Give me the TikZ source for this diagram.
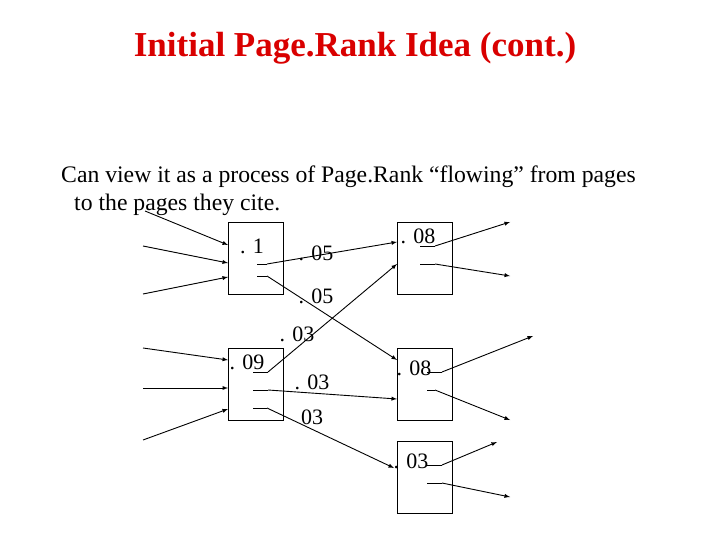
\documentclass[tikz,border=0pt]{standalone}
\usepackage{fontspec}
\setmainfont{Liberation Serif}
\begin{document}
\begin{tikzpicture}[x=1pt,y=-1pt,
  page/.style={draw,minimum width=55pt,minimum height=72pt,anchor=north west,inner sep=0},
  lab/.style={font=\fontsize{22}{22}\selectfont,inner sep=0},
  arr/.style={-latex,line width=0.9pt},
  ln/.style={line width=0.9pt}]
\useasboundingbox (0,0) rectangle (720,540);
\node[text=red!85!black,font=\bfseries\fontsize{35}{35}\selectfont] (title) at (355,48) {Initial Page.Rank Idea (cont.)};
\node[anchor=west,font=\fontsize{23.7}{24}\selectfont,inner sep=0] (t1) at (61,177) {Can view it as a process of Page.Rank “flowing” from pages};
\node[anchor=west,font=\fontsize{23.7}{24}\selectfont,inner sep=0] (t2) at (74,205) {to the pages they cite.};
\node[page] (A) at (228,222) {};
\node[page] (B) at (397,222) {};
\node[page] (C) at (228,348) {};
\node[page] (D) at (397,348) {};
\node[page] (E) at (397,441) {};
% incoming
\coordinate (a1) at (145,211); \coordinate (a2) at (143,246); \coordinate (a3) at (143,294);
\draw[arr] (a1) -- (228,245); \draw[arr] (a2) -- (228,263); \draw[arr] (a3) -- (228,277);
\coordinate (c1) at (143,348); \coordinate (c2) at (143,388); \coordinate (c3) at (143,440);
\draw[arr] (c1) -- (228,360); \draw[arr] (c2) -- (228,388); \draw[arr] (c3) -- (228,409);
% A outs
\draw[ln] (257,264) -- (267,264); \draw[arr] (267,264) -- (397,242);
\draw[ln] (257,276) -- (267,276); \draw[arr] (267,276) -- (397,360);
% C outs
\draw[ln] (253,372) -- (268,372); \draw[arr] (268,372) -- (397,264);
\draw[ln] (253,390) -- (268,390); \draw[arr] (268,390) -- (397,399);
\draw[ln] (253,408) -- (267,408); \draw[arr] (267,408) -- (394,468);
% B outs
\coordinate (b1) at (510,222); \coordinate (b2) at (510,276);
\draw[ln] (420,246) -- (435,246); \draw[arr] (435,246) -- (b1);
\draw[ln] (420,264) -- (435,264); \draw[arr] (435,264) -- (b2);
% D outs
\coordinate (d1) at (533,336); \coordinate (d2) at (510,420);
\draw[ln] (427,372) -- (442,372); \draw[arr] (442,372) -- (d1);
\draw[ln] (427,390) -- (435,390); \draw[arr] (435,390) -- (d2);
% E outs
\coordinate (e1) at (497,442); \coordinate (e2) at (510,497);
\draw[ln] (427,465) -- (442,465); \draw[arr] (442,465) -- (e1);
\draw[ln] (427,483) -- (442,483); \draw[arr] (442,483) -- (e2);
% labels
\node[lab] (l1) at (252,246) {. 1};
\node[lab] (l2) at (316,253) {. 05};
\node[lab] (l3) at (316,296) {. 05};
\node[lab] (l4) at (297,334) {. 03};
\node[lab] (l5) at (247,362) {. 09};
\node[lab] (l6) at (312,382) {. 03};
\node[lab] (l7) at (312,417) {03};
\node[lab] (l8) at (418,236) {. 08};
\node[lab] (l9) at (414,368) {. 08};
\node[lab] (l10) at (411,461) {. 03};
\end{tikzpicture}
\end{document}
